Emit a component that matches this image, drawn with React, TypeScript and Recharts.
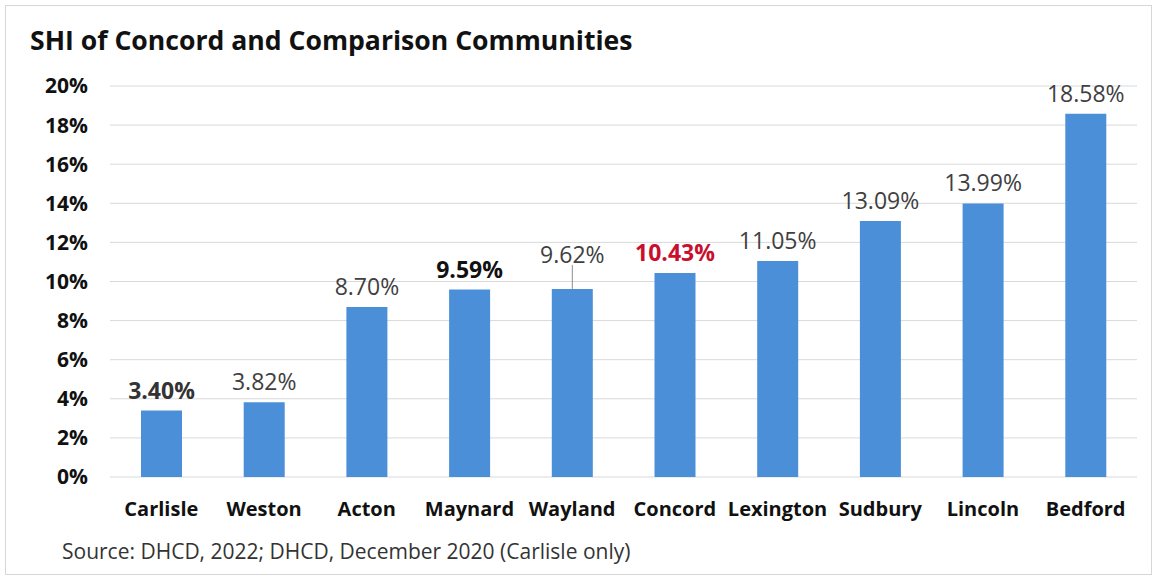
import { BarChart, Bar, XAxis, YAxis, CartesianGrid, LabelList } from 'recharts';

// SHI (Subsidized Housing Inventory) share by community
const towns = ['Carlisle', 'Weston', 'Acton', 'Maynard', 'Wayland', 'Concord', 'Lexington', 'Sudbury', 'Lincoln', 'Bedford'];
const shi = [3.40, 3.82, 8.70, 9.59, 9.62, 10.43, 11.05, 13.09, 13.99, 18.58];
const yTicks = [0, 2, 4, 6, 8, 10, 12, 14, 16, 18, 20];

const chartData = towns.map((town, i) => ({ town, shi: shi[i] }));

const FONT = '"Open Sans", Lato, sans-serif';
const BAR = '#4a8fd8';

// label look per town (Concord is the highlighted one)
const labelStyle: Record<string, { fill: string; weight: number; lift?: number }> = {
  Carlisle: { fill: '#333', weight: 700 },
  Maynard: { fill: '#111', weight: 700 },
  Concord: { fill: '#c8102e', weight: 700 },
  Wayland: { fill: '#404040', weight: 400, lift: 14 },
};

const BarLabel = (props: any) => {
  const { x, y, width, value, index } = props;
  const town = towns[index];
  const s = labelStyle[town] ?? { fill: '#404040', weight: 400 };
  const lift = s.lift ?? 0;
  const cx = x + width / 2;
  const ty = y - 12 - lift;
  return (
    <g>
      {lift > 0 && <line x1={cx} x2={cx} y1={ty + 2} y2={y} stroke="#8c8c8c" strokeWidth={1} />}
      <text x={cx} y={ty} textAnchor="middle" fill={s.fill} fontWeight={s.weight} fontSize={23} fontFamily={FONT}>
        {`${Number(value).toFixed(2)}%`}
      </text>
    </g>
  );
};

export default function App() {
  return (
    <div style={{ position: 'absolute', left: 0, top: 0, width: 1157, height: 579, background: '#fff', fontFamily: FONT }}>
      <div style={{ position: 'absolute', left: 5, top: 5, width: 1145, height: 568, border: '1px solid #d6d6d6' }} />
      <div style={{ position: 'absolute', left: 30, top: 22, fontSize: 26.6, fontWeight: 700, color: '#111', whiteSpace: 'nowrap' }}>
        SHI of Concord and Comparison Communities
      </div>
      <BarChart
        width={1157}
        height={579}
        data={chartData}
        margin={{ top: 86, right: 20, bottom: 72, left: 40 }}
      >
        <CartesianGrid vertical={false} stroke="#d9d9d9" />
        <XAxis
          dataKey="town"
          height={30}
          axisLine={false}
          tickLine={false}
          tickMargin={19}
          interval={0}
          tick={{ fontSize: 20, fontWeight: 700, fill: '#111', fontFamily: FONT }}
        />
        <YAxis
          width={70}
          domain={[0, 20]}
          ticks={yTicks}
          interval={0}
          axisLine={false}
          tickLine={false}
          tickMargin={16}
          tickFormatter={(v) => `${v}%`}
          tick={{ fontSize: 21, fontWeight: 700, fill: '#111', fontFamily: FONT }}
        />
        <Bar dataKey="shi" fill={BAR} barSize={41} isAnimationActive={false}>
          <LabelList dataKey="shi" content={<BarLabel />} />
        </Bar>
      </BarChart>
      <div style={{ position: 'absolute', left: 62, top: 537, fontSize: 21, color: '#333', whiteSpace: 'nowrap' }}>
        Source: DHCD, 2022; DHCD, December 2020 (Carlisle only)
      </div>
    </div>
  );
}
